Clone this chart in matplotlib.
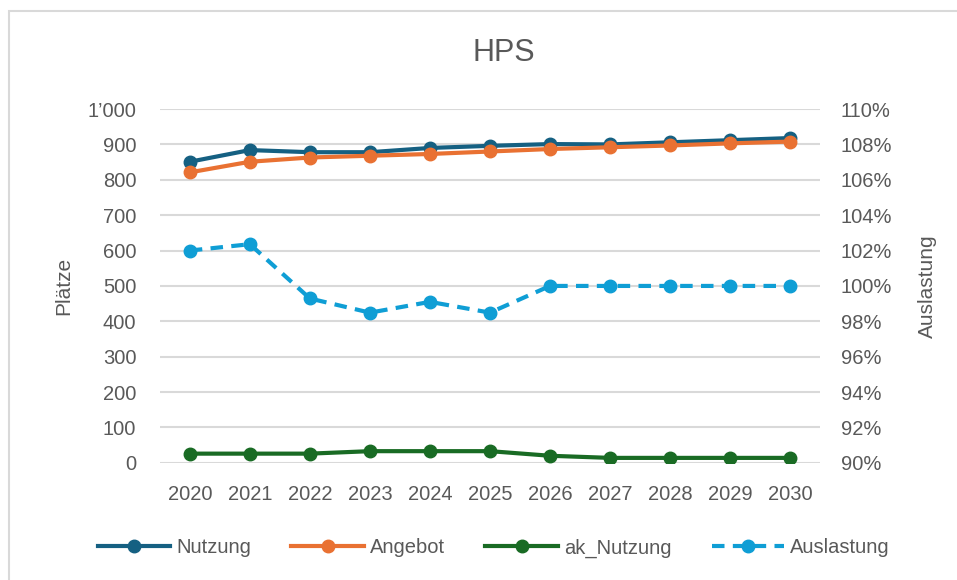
import matplotlib.pyplot as plt
from matplotlib.ticker import FuncFormatter, MultipleLocator
from matplotlib.patches import Rectangle

# values
years = ["2020", "2021", "2022", "2023", "2024", "2025", "2026", "2027", "2028", "2029", "2030"]
nutzung = [851, 884, 878, 878, 890, 896, 901, 900, 906, 912, 918]
angebot = [821, 851, 863, 868, 873, 880, 887, 892, 897, 903, 908]
ak_nutzung = [26, 26, 26, 33, 33, 33, 20, 14, 14, 14, 14]
auslastung = [1.020, 1.0236, 0.9929, 0.9849, 0.9910, 0.9849, 1.0, 1.0, 1.0, 1.0, 1.0]

text_col = "#595959"
grid_col = "#D9D9D9"
plt.rcParams['font.family'] = ['Liberation Sans', 'DejaVu Sans']

fig = plt.figure(figsize=(9.57, 5.8), dpi=100)
ax = fig.add_axes([0.167, 0.202, 0.690, 0.610])
ax2 = ax.twinx()

x = range(len(years))
lw = 3
ms = 9
ax.plot(x, nutzung, color="#156082", lw=lw, marker="o", ms=ms, label="Nutzung", zorder=3)
ax.plot(x, angebot, color="#E97132", lw=lw, marker="o", ms=ms, label="Angebot", zorder=4)
ax.plot(x, ak_nutzung, color="#196B24", lw=lw, marker="o", ms=ms, label="ak_Nutzung", zorder=3)
ax2.plot(x, auslastung, color="#0F9ED5", lw=lw, marker="o", ms=ms, label="Auslastung",
         linestyle=(0, (3, 2)))

ax.set_xlim(-0.5, len(years) - 0.5)
ax.set_ylim(0, 1000)
ax2.set_ylim(0.9, 1.1)
ax.yaxis.set_major_locator(MultipleLocator(100))
ax2.yaxis.set_major_locator(MultipleLocator(0.02))
ax.yaxis.set_major_formatter(FuncFormatter(lambda v, p: f"{int(v):,}".replace(",", "\u2019")))
ax2.yaxis.set_major_formatter(FuncFormatter(lambda v, p: f"{v*100:.0f}%"))
ax.set_xticks(list(x))
ax.set_xticklabels(years)

ax.grid(axis="y", color=grid_col, linewidth=1.5)
ax.set_axisbelow(True)
for a in (ax, ax2):
    for s in a.spines.values():
        s.set_visible(False)
    a.tick_params(length=0, colors=text_col, labelsize=14.5)
ax.tick_params(axis="y", pad=17)
ax.tick_params(axis="x", pad=16)
ax2.tick_params(axis="y", pad=15)

ax.set_ylabel("Plätze", color=text_col, fontsize=15, labelpad=10)
ax2.set_ylabel("Auslastung", color=text_col, fontsize=15, labelpad=18)
fig.text(0.526, 0.908, "HPS", ha="center", va="center", color=text_col, fontsize=22)

h1, l1 = ax.get_legend_handles_labels()
h2, l2 = ax2.get_legend_handles_labels()
fig.legend(h1 + h2, l1 + l2, loc="center", bbox_to_anchor=(0.516, 0.055), ncol=4,
           frameon=False, fontsize=14.5, labelcolor=text_col, handlelength=3.6,
           handletextpad=0.3, columnspacing=2.0, numpoints=1)

fig.patches.append(Rectangle((9 / 957, -0.1), 1.2, 0.981 + 0.1, transform=fig.transFigure,
                             fill=False, edgecolor=grid_col, linewidth=1.5))

fig.savefig("out.png", dpi=100)
